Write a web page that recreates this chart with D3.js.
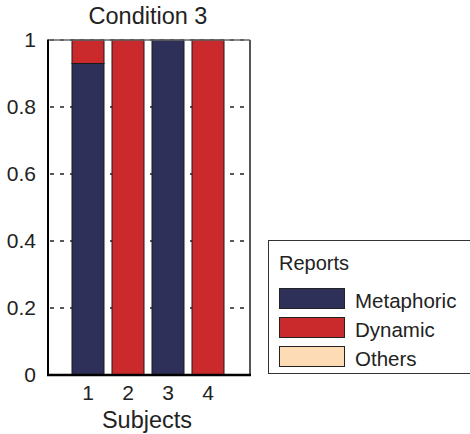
<!DOCTYPE html>
<html>
  <head>
    <meta charset="utf-8">
    <script src="https://cdn.jsdelivr.net/npm/d3@7/dist/d3.min.js"></script>
    <style>
      body { margin: 0; background: #fff; }
      svg { display: block; font-family: "Liberation Sans", Arial, sans-serif; }
    </style>
  </head>
  <body>
    <script>
      // Chart data
      var subjects = [1, 2, 3, 4];
      var metaphoric = [0.93, 0, 1, 0];
      var dynamic = [0.07, 1, 0, 1];
      var others = [0, 0, 0, 0];
      var seriesNames = ["Metaphoric", "Dynamic", "Others"];
      var seriesColors = ["#2f3059", "#cb2a2c", "#fddcb5"];
      var yTicks = [0, 0.2, 0.4, 0.6, 0.8, 1];

      var width = 470, height = 434;
      var margin = {top: 40, left: 48, right: 220, bottom: 59};
      var plotW = width - margin.left - margin.right;
      var plotH = height - margin.top - margin.bottom;

      var svg = d3.select("body").append("svg")
        .attr("width", width).attr("height", height);

      var x = d3.scaleLinear().domain([0, 5.05]).range([margin.left, margin.left + plotW]);
      var y = d3.scaleLinear().domain([0, 1]).range([margin.top + plotH, margin.top]);

      // Dashed grid lines (behind the bars)
      svg.append("g").selectAll("line").data(yTicks.slice(1)).enter().append("line")
        .attr("x1", x(0)).attr("x2", x(5.05))
        .attr("y1", function(d) { return y(d); }).attr("y2", function(d) { return y(d); })
        .attr("stroke", "#222").attr("stroke-width", 1.3)
        .attr("stroke-dasharray", "4,6").attr("stroke-dashoffset", -2);

      // Stack the series
      var rows = subjects.map(function(s, i) {
        return {subject: s, Metaphoric: metaphoric[i], Dynamic: dynamic[i], Others: others[i]};
      });
      var stacked = d3.stack().keys(seriesNames)(rows);
      var barW = 0.8;

      svg.append("g").selectAll("g").data(stacked).enter().append("g")
        .attr("fill", function(d, i) { return seriesColors[i]; })
        .selectAll("rect").data(function(d) { return d.filter(function(p) { return p[1] - p[0] > 0; }); })
        .enter().append("rect")
        .attr("x", function(d) { return x(d.data.subject - barW / 2); })
        .attr("width", x(barW) - x(0))
        .attr("y", function(d) { return y(d[1]); })
        .attr("height", function(d) { return y(d[0]) - y(d[1]); })
        .attr("stroke", "#1a1a1a").attr("stroke-width", 1);

      // Axes frame: top and right thin gray, left and bottom black
      svg.append("line").attr("x1", x(0)).attr("x2", x(5.05)).attr("y1", y(1)).attr("y2", y(1))
        .attr("stroke", "#666").attr("stroke-width", 1.5);
      svg.append("line").attr("x1", x(5.05)).attr("x2", x(5.05)).attr("y1", y(1)).attr("y2", y(0))
        .attr("stroke", "#555").attr("stroke-width", 2);
      svg.append("line").attr("x1", x(0)).attr("x2", x(0)).attr("y1", y(1) - 0.5).attr("y2", y(0) + 1)
        .attr("stroke", "#000").attr("stroke-width", 2);
      svg.append("line").attr("x1", x(0) - 1).attr("x2", x(5.05) + 1).attr("y1", y(0)).attr("y2", y(0))
        .attr("stroke", "#000").attr("stroke-width", 2.5);

      // Y axis tick labels
      svg.append("g").selectAll("text").data(yTicks).enter().append("text")
        .attr("x", 36).attr("y", function(d) { return y(d) + 7; })
        .attr("text-anchor", "end").attr("font-size", 21).attr("fill", "#222")
        .text(function(d) { return d === 0 || d === 1 ? d : d.toFixed(1); });

      // X axis tick labels
      svg.append("g").selectAll("text").data(subjects).enter().append("text")
        .attr("x", function(d) { return x(d); }).attr("y", 400)
        .attr("text-anchor", "middle").attr("font-size", 21).attr("fill", "#222")
        .text(function(d) { return d; });

      // Title and axis label
      svg.append("text").attr("x", 148).attr("y", 24).attr("text-anchor", "middle")
        .attr("font-size", 23.5).attr("fill", "#222").text("Condition 3");
      svg.append("text").attr("x", 147).attr("y", 428).attr("text-anchor", "middle")
        .attr("font-size", 23.5).attr("fill", "#222").text("Subjects");

      // Legend
      var legend = svg.append("g");
      legend.append("rect").attr("x", 268.5).attr("y", 240.5).attr("width", 220).attr("height", 133)
        .attr("fill", "#fff").attr("stroke", "#333").attr("stroke-width", 1);
      legend.append("text").attr("x", 279).attr("y", 270).attr("font-size", 20)
        .attr("fill", "#222").text("Reports");
      var ly = d3.scaleBand().domain(seriesNames).range([288, 375]).paddingInner(0);
      var items = legend.selectAll(".item").data(seriesNames).enter().append("g");
      items.append("rect")
        .attr("x", 279.5).attr("y", function(d) { return ly(d) + 0.5; })
        .attr("width", 65).attr("height", 20)
        .attr("fill", function(d, i) { return seriesColors[i]; })
        .attr("stroke", "#222").attr("stroke-width", 1);
      items.append("text")
        .attr("x", 355).attr("y", function(d) { return ly(d) + 20; })
        .attr("font-size", 20.5).attr("fill", "#222")
        .text(function(d) { return d; });
    </script>
  </body>
</html>
